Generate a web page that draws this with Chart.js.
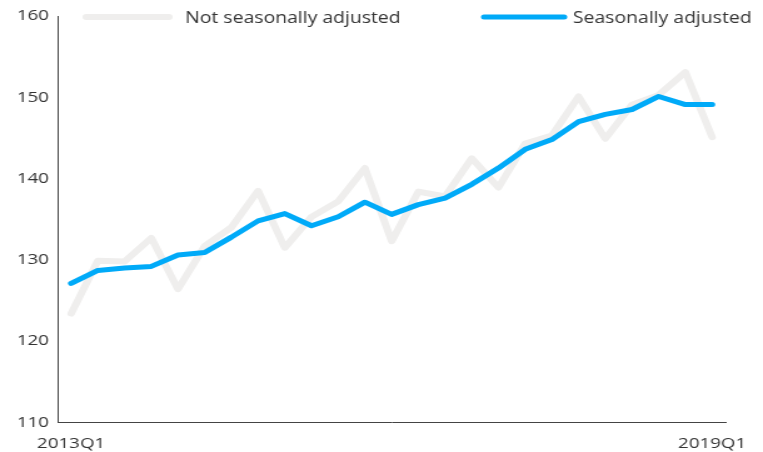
<!DOCTYPE html>
<html>
<head>
<meta charset="utf-8">
<script src="https://cdn.jsdelivr.net/npm/chart.js"></script>
<style>
  html, body { margin: 0; padding: 0; background: #fff; }
  #wrap { width: 763px; height: 452px; }
</style>
</head>
<body>
<!-- the reference is drawn horizontally stretched, so the canvas is too (inline style keeps Chart.js from resetting it) -->
<div id="wrap"><canvas id="chart" width="610" height="452" style="width:763px;height:452px;display:block;"></canvas></div>
<script>
const quarters = [
  "2013Q1", "2013Q2", "2013Q3", "2013Q4",
  "2014Q1", "2014Q2", "2014Q3", "2014Q4",
  "2015Q1", "2015Q2", "2015Q3", "2015Q4",
  "2016Q1", "2016Q2", "2016Q3", "2016Q4",
  "2017Q1", "2017Q2", "2017Q3", "2017Q4",
  "2018Q1", "2018Q2", "2018Q3", "2018Q4",
  "2019Q1"
];
const notSeasonallyAdjusted = [
  123.4, 129.9, 129.8, 132.7, 126.4, 131.7, 134.0, 138.5,
  131.5, 135.3, 137.2, 141.3, 132.3, 138.4, 137.8, 142.5,
  138.9, 144.3, 145.3, 150.1, 144.9, 149.1, 150.3, 153.1,
  145.1
];
const seasonallyAdjusted = [
  127.1, 128.7, 129.0, 129.2, 130.6, 130.9, 132.8, 134.8,
  135.7, 134.2, 135.3, 137.1, 135.6, 136.8, 137.6, 139.3,
  141.3, 143.6, 144.8, 147.0, 147.9, 148.5, 150.1, 149.1,
  149.1
];
const yTicks = [110, 120, 130, 140, 150, 160];

const FONT = "'Open Sans', 'Noto Sans', sans-serif";
const TEXT_COLOR = "#333";
const GREY = "#efeeed";
const BLUE = "#00aaf8";

// legend drawn by hand so the two entries sit where the reference has them
const lineLegend = {
  id: "lineLegend",
  afterDraw(chart) {
    const ctx = chart.ctx;
    const items = [
      {ds: 0, x0: 69, x1: 135, tx: 148},
      {ds: 1, x0: 387, x1: 451, tx: 458},
    ];
    const y = 17;
    ctx.save();
    ctx.font = "15.5px " + FONT;
    ctx.textBaseline = "middle";
    ctx.textAlign = "left";
    items.forEach(it => {
      const ds = chart.data.datasets[it.ds];
      ctx.strokeStyle = ds.borderColor;
      ctx.lineWidth = ds.borderWidth;
      ctx.lineCap = "round";
      ctx.beginPath();
      ctx.moveTo(it.x0, y);
      ctx.lineTo(it.x1, y);
      ctx.stroke();
      ctx.fillStyle = TEXT_COLOR;
      ctx.fillText(ds.label, it.tx, y + 1.5);
    });
    ctx.restore();
  }
};

new Chart(document.getElementById("chart"), {
  type: "line",
  data: {
    labels: quarters,
    datasets: [{
      label: "Not seasonally adjusted",
      data: notSeasonallyAdjusted,
      borderColor: GREY,
      backgroundColor: GREY,
      borderWidth: 6,
      borderCapStyle: "round",
      borderJoinStyle: "round",
      pointRadius: 0,
      tension: 0,
      order: 1,
    }, {
      label: "Seasonally adjusted",
      data: seasonallyAdjusted,
      borderColor: BLUE,
      backgroundColor: BLUE,
      borderWidth: 5,
      borderCapStyle: "round",
      borderJoinStyle: "round",
      pointRadius: 0,
      tension: 0,
      order: 0,
    }],
  },
  options: {
    responsive: false,
    devicePixelRatio: 1,
    animation: false,
    layout: {
      padding: {top: 14, right: 30, bottom: 0, left: 0}
    },
    scales: {
      x: {
        type: "category",
        offset: true,
        grid: {display: false, drawTicks: false},
        border: {display: true, color: "#444", width: 1},
        ticks: {
          autoSkip: false,
          maxRotation: 0,
          padding: 12,
          color: TEXT_COLOR,
          font: {family: FONT, size: 15},
          callback: function(value, index) {
            return (index === 0 || index === quarters.length - 1) ? quarters[index] : "";
          },
        },
        afterFit: (scale) => { scale.height = 29.5; },
      },
      y: {
        min: yTicks[0],
        max: yTicks[yTicks.length - 1],
        grid: {display: false, drawTicks: false},
        border: {display: true, color: "#444", width: 1},
        ticks: {
          stepSize: 10,
          padding: 7,
          color: TEXT_COLOR,
          font: {family: FONT, size: 15},
        },
        afterBuildTicks: (scale) => { scale.ticks = yTicks.map(v => ({value: v})); },
        afterFit: (scale) => { scale.width = 46.2; },
      },
    },
    plugins: {
      legend: {display: false},
      tooltip: {enabled: false},
    },
  },
  plugins: [lineLegend],
});
</script>
</body>
</html>
